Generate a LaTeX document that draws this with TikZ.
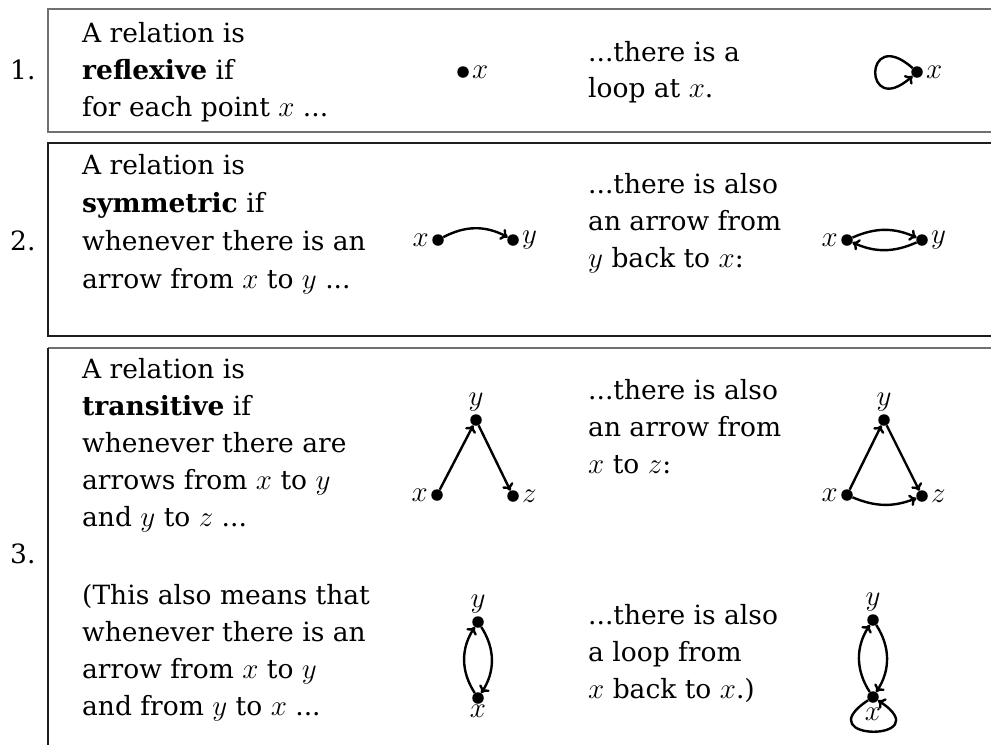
\RequirePackage{fix-cm}
\documentclass[tikz,border=0pt]{standalone}
\usepackage{fontspec}
\setmainfont{DejaVu Serif}
\DeclareMathSizes{26.5}{29}{20}{15}
\usetikzlibrary{arrows.meta}
\definecolor{lightedge}{HTML}{707070}
\definecolor{darkedge}{HTML}{1E1E1E}
\begin{document}
\begin{tikzpicture}[x=1pt,y=1pt,
  txt/.style={anchor=base west,inner sep=0pt,font=\fontsize{26.5}{37}\selectfont},
  dot/.style={circle,fill=black,inner sep=0pt,minimum size=11.5pt},
  lbl/.style={inner sep=3pt,font=\fontsize{26.5}{37}\selectfont},
  arr/.style={line width=2.4pt,-{To[length=7pt,width=12pt]}},
  edgeA/.style={draw=lightedge,line width=1.5pt},
  edgeB/.style={draw=darkedge,line width=1.5pt}]
\useasboundingbox (0,0) rectangle (991,-745);
% boxes
\draw[edgeA] (991,-9) -- (48,-9) -- (48,-132) -- (991,-132);
\draw[edgeB] (991,-143) -- (48,-143) -- (48,-336) -- (991,-336);
\draw[edgeA] (991,-348) -- (48,-348);
\draw[edgeB] (48,-348) -- (48,-745);
% numbers
\node[txt] (n1) at (10,-79) {1.};
\node[txt] (n2) at (10,-250) {2.};
\node[txt] (n3) at (10,-563) {3.};
% row 1 text
\node[txt] (t1a) at (82,-42) {A relation is};
\node[txt] (t1b) at (82,-79) {\textbf{reflexive} if};
\node[txt] (t1c) at (82,-116) {for each point $x$ ...};
\node[txt] (u1a) at (588,-61) {...there is a};
\node[txt] (u1b) at (588,-97) {loop at $x$.};
% row 2 text
\node[txt] (t2a) at (82,-174) {A relation is};
\node[txt] (t2b) at (82,-212) {\textbf{symmetric} if};
\node[txt] (t2c) at (82,-250) {whenever there is an};
\node[txt] (t2d) at (82,-288) {arrow from $x$ to $y$ ...};
\node[txt] (u2a) at (588,-193) {...there is also};
\node[txt] (u2b) at (588,-230) {an arrow from};
\node[txt] (u2c) at (588,-267) {$y$ back to $x$:};
% row 3 text
\node[txt] (t3a) at (82,-378) {A relation is};
\node[txt] (t3b) at (82,-415) {\textbf{transitive} if};
\node[txt] (t3c) at (82,-452) {whenever there are};
\node[txt] (t3d) at (82,-489) {arrows from $x$ to $y$};
\node[txt] (t3e) at (82,-526) {and $y$ to $z$ ...};
\node[txt] (t3f) at (82,-604) {(This also means that};
\node[txt] (t3g) at (82,-641) {whenever there is an};
\node[txt] (t3h) at (82,-678) {arrow from $x$ to $y$};
\node[txt] (t3i) at (82,-715) {and from $y$ to $x$ ...};
\node[txt] (u3a) at (588,-399) {...there is also};
\node[txt] (u3b) at (588,-436) {an arrow from};
\node[txt] (u3c) at (588,-473) {$x$ to $z$:};
\node[txt] (u3d) at (588,-624) {...there is also};
\node[txt] (u3e) at (588,-661) {a loop from};
\node[txt] (u3f) at (588,-698) {$x$ back to $x$.)};
% row 1 diagrams
\node[dot,label={[lbl]right:$x$}] (ax) at (463,-72) {};
\node[dot,label={[lbl]right:$x$}] (bx) at (917,-72) {};
\draw[arr] (bx) .. controls +(-54,48) and +(-54,-48) .. (bx);
% row 2 diagrams
\node[dot,label={[lbl]left:$x$}] (cx) at (438,-240) {};
\node[dot,label={[lbl]right:$y$}] (cy) at (513,-240) {};
\draw[arr] (cx) to[bend left=28] (cy);
\node[dot,label={[lbl]left:$x$}] (dx) at (847,-240) {};
\node[dot,label={[lbl]right:$y$}] (dy) at (922,-240) {};
\draw[arr] (dx) to[bend left=24] (dy);
\draw[arr] (dy) to[bend left=24] (dx);
% row 3 triangles
\node[dot,label={[lbl]left:$x$}] (ex) at (437,-495) {};
\node[dot,label={[lbl]above:$y$}] (ey) at (476,-420) {};
\node[dot,label={[lbl]right:$z$}] (ez) at (513,-496) {};
\draw[arr] (ex) -- (ey);
\draw[arr] (ey) -- (ez);
\node[dot,label={[lbl]left:$x$}] (fx) at (847,-495) {};
\node[dot,label={[lbl]above:$y$}] (fy) at (884,-420) {};
\node[dot,label={[lbl]right:$z$}] (fz) at (922,-496) {};
\draw[arr] (fx) -- (fy);
\draw[arr] (fy) -- (fz);
\draw[arr] (fx) to[bend right=22] (fz);
% row 3 two-cycles
\node[dot,label={[lbl]above:$y$}] (gy) at (478,-622) {};
\node[dot,label={[lbl,inner sep=1pt]below:$x$}] (gx) at (478,-698) {};
\draw[arr] (gx) to[bend left=33] (gy);
\draw[arr] (gy) to[bend left=33] (gx);
\node[dot,label={[lbl]above:$y$}] (hy) at (873,-620) {};
\node[dot] (hx) at (873,-697) {};
\node[lbl] (hxl) at (873,-714) {$x$};
\draw[arr] (hx) to[bend left=33] (hy);
\draw[arr] (hy) to[bend left=33] (hx);
\draw[arr] (hx) .. controls +(-68,-45) and +(68,-45) .. (hx);
\end{tikzpicture}
\end{document}
